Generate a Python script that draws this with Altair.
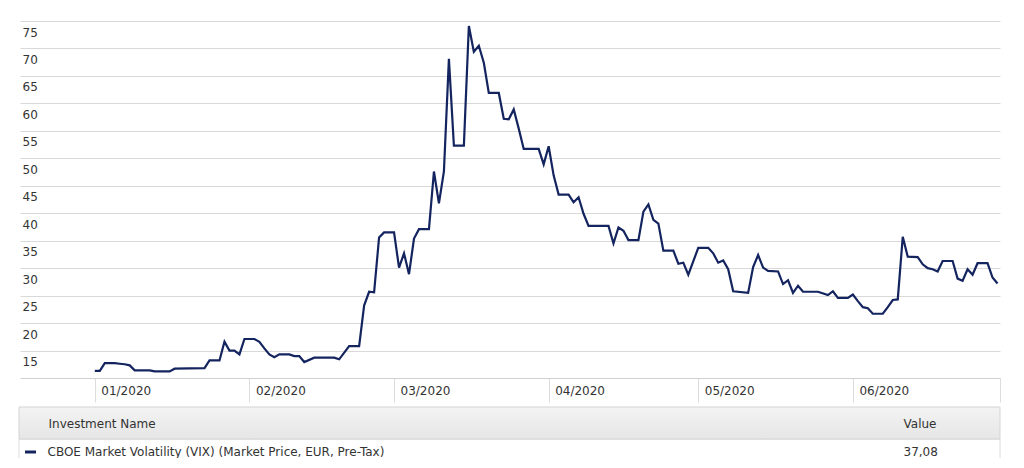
import altair as alt
import pandas as pd

# ---------------- data ----------------
dates = [
    "2020-01-01", "2020-01-02", "2020-01-03", "2020-01-05", "2020-01-06", "2020-01-07",
    "2020-01-08", "2020-01-09", "2020-01-12", "2020-01-13", "2020-01-16", "2020-01-17",
    "2020-01-23", "2020-01-24", "2020-01-26", "2020-01-27", "2020-01-28", "2020-01-29",
    "2020-01-30", "2020-01-31", "2020-02-02", "2020-02-03", "2020-02-04", "2020-02-05",
    "2020-02-06", "2020-02-07", "2020-02-09", "2020-02-10", "2020-02-11", "2020-02-12",
    "2020-02-14", "2020-02-18", "2020-02-19", "2020-02-21", "2020-02-23", "2020-02-24",
    "2020-02-25", "2020-02-26", "2020-02-27", "2020-02-28", "2020-03-01", "2020-03-02",
    "2020-03-03", "2020-03-04", "2020-03-05", "2020-03-06", "2020-03-08", "2020-03-09",
    "2020-03-10", "2020-03-11", "2020-03-12", "2020-03-13", "2020-03-15", "2020-03-16",
    "2020-03-17", "2020-03-18", "2020-03-19", "2020-03-20", "2020-03-22", "2020-03-23",
    "2020-03-24", "2020-03-25", "2020-03-26", "2020-03-27", "2020-03-30", "2020-03-31",
    "2020-04-01", "2020-04-02", "2020-04-03", "2020-04-05", "2020-04-06", "2020-04-07",
    "2020-04-08", "2020-04-09", "2020-04-13", "2020-04-14", "2020-04-15", "2020-04-16",
    "2020-04-17", "2020-04-19", "2020-04-20", "2020-04-21", "2020-04-22", "2020-04-23",
    "2020-04-24", "2020-04-26", "2020-04-27", "2020-04-28", "2020-04-29", "2020-05-01",
    "2020-05-03", "2020-05-04", "2020-05-05", "2020-05-06", "2020-05-07", "2020-05-08",
    "2020-05-11", "2020-05-12", "2020-05-13", "2020-05-14", "2020-05-15", "2020-05-17",
    "2020-05-18", "2020-05-19", "2020-05-20", "2020-05-21", "2020-05-22", "2020-05-25",
    "2020-05-27", "2020-05-28", "2020-05-29", "2020-05-31", "2020-06-01", "2020-06-02",
    "2020-06-03", "2020-06-04", "2020-06-05", "2020-06-07", "2020-06-08", "2020-06-09",
    "2020-06-10", "2020-06-11", "2020-06-12", "2020-06-14", "2020-06-15", "2020-06-16",
    "2020-06-17", "2020-06-18", "2020-06-19", "2020-06-21", "2020-06-22", "2020-06-23",
    "2020-06-24", "2020-06-25", "2020-06-26", "2020-06-28", "2020-06-29", "2020-06-30",
]
values = [
    11.3, 11.3, 12.7, 12.7, 12.6, 12.5,
    12.3, 11.4, 11.4, 11.2, 11.2, 11.7,
    11.8, 13.2, 13.2, 16.6, 15.0, 15.0,
    14.3, 17.1, 17.1, 16.6, 15.4, 14.3,
    13.8, 14.3, 14.3, 14.0, 14.0, 12.9,
    13.7, 13.7, 13.4, 15.8, 15.8, 23.2,
    25.7, 25.6, 35.6, 36.5, 36.5, 30.1,
    32.7, 28.9, 35.4, 37.1, 37.1, 47.6,
    41.8, 47.6, 68.1, 52.3, 52.3, 74.1,
    69.4, 70.5, 67.4, 61.9, 61.9, 57.2,
    57.1, 58.9, 55.4, 51.7, 51.7, 48.9,
    52.2, 46.9, 43.4, 43.4, 42.0, 42.9,
    39.9, 37.7, 37.7, 34.5, 37.4, 36.8,
    35.1, 35.1, 40.3, 41.6, 38.8, 38.1,
    33.2, 33.2, 30.8, 31.0, 28.8, 33.7,
    33.7, 32.7, 31.0, 31.4, 29.8, 25.8,
    25.5, 30.2, 32.4, 30.1, 29.5, 29.4,
    27.1, 27.8, 25.5, 26.8, 25.7, 25.7,
    25.1, 25.8, 24.6, 24.6, 25.2, 24.0,
    22.9, 22.7, 21.7, 21.7, 22.9, 24.2,
    24.3, 35.7, 32.1, 32.0, 30.7, 30.0,
    29.8, 29.4, 31.3, 31.3, 28.1, 27.7,
    29.8, 28.8, 30.9, 30.9, 28.3, 27.2,
]
y_ticks = [15, 20, 25, 30, 35, 40, 45, 50, 55, 60, 65, 70, 75]
month_ticks = [1, 2, 3, 4, 5, 6]

header_name = "Investment Name"
header_value = "Value"
series_name = "CBOE Market Volatility (VIX) (Market Price, EUR, Pre-Tax)"
latest_value = "37,08"

# ---------------- styling ----------------
FONT = "DejaVu Sans"
TEXT = "#333333"
LINE = "#14245f"
GRID = "#d9d9d9"
W, H = 980, 357

df = pd.DataFrame({"date": dates, "value": values})

x_scale = alt.Scale(
    type="utc",
    domain=[
        alt.DateTime(year=2019, month=12, date=17, utc=True),
        alt.DateTime(year=2020, month=6, date=30, hours=12, utc=True),
    ],
)
tick_values = [alt.DateTime(year=2020, month=m, date=1, utc=True) for m in month_ticks] + [
    alt.DateTime(year=2020, month=6, date=30, hours=12, utc=True)
]

line = (
    alt.Chart(df)
    .mark_line(color=LINE, strokeWidth=2.2, clip=False)
    .encode(
        x=alt.X(
            "date:T",
            scale=x_scale,
            axis=alt.Axis(
                values=tick_values,
                labelExpr="utcFormat(datum.value, '%d') == '01' ? utcFormat(datum.value, '%m/%Y') : ''",
                grid=False,
                domain=True,
                domainColor="#d0d0d0",
                domainWidth=1,
                ticks=True,
                tickSize=24,
                tickColor="#dcdcdc",
                tickWidth=1,
                labelAlign="left",
                labelBaseline="middle",
                labelPadding=-11.3,
                labelOffset=6,
                labelFont=FONT,
                labelFontSize=12,
                labelColor=TEXT,
                labelFlush=False,
                labelOverlap=False,
                labelBound=False,
                title=None,
            ),
        ),
        y=alt.Y(
            "value:Q",
            scale=alt.Scale(domain=[10, 75], nice=False, zero=False),
            axis=alt.Axis(
                values=y_ticks,
                grid=True,
                gridColor=GRID,
                gridWidth=1,
                domain=False,
                ticks=False,
                labelAlign="left",
                labelBaseline="middle",
                labelPadding=-2,
                labelOffset=11,
                labelFont=FONT,
                labelFontSize=12,
                labelColor=TEXT,
                labelFlush=False,
                labelOverlap=False,
                title=None,
            ),
        ),
    )
)

one = pd.DataFrame({"k": [0]})

header_bg = (
    alt.Chart(one)
    .mark_rect(
        fill={
            "gradient": "linear",
            "x1": 0, "y1": 0, "x2": 0, "y2": 1,
            "stops": [
                {"offset": 0, "color": "#f3f3f3"},
                {"offset": 1, "color": "#e6e6e6"},
            ],
        },
        stroke="#d4d4d4",
        strokeWidth=1,
    )
    .encode(x=alt.value(-1), x2=alt.value(980), y=alt.value(386), y2=alt.value(418))
)

sides = pd.DataFrame({"xpos": [-1, 980]})
table_sides = (
    alt.Chart(one)
    .mark_rule(color="#dcdcdc", strokeWidth=1)
    .encode(x=alt.value(-1), y=alt.value(418), y2=alt.value(440))
)
table_sides_r = (
    alt.Chart(one)
    .mark_rule(color="#dcdcdc", strokeWidth=1)
    .encode(x=alt.value(980), y=alt.value(418), y2=alt.value(440))
)
header_line = (
    alt.Chart(one)
    .mark_rule(color="#e0e0e0", strokeWidth=1)
    .encode(x=alt.value(-1), x2=alt.value(980), y=alt.value(418.5))
)

hdr_name = (
    alt.Chart(pd.DataFrame({"t": [header_name]}))
    .mark_text(font=FONT, fontSize=12, color=TEXT, align="left", baseline="middle")
    .encode(text="t:N", x=alt.value(28.5), y=alt.value(403))
)
hdr_value = (
    alt.Chart(pd.DataFrame({"t": [header_value]}))
    .mark_text(font=FONT, fontSize=12, color=TEXT, align="left", baseline="middle")
    .encode(text="t:N", x=alt.value(883.5), y=alt.value(403))
)
row_name = (
    alt.Chart(pd.DataFrame({"t": [series_name]}))
    .mark_text(font=FONT, fontSize=12, color=TEXT, align="left", baseline="middle")
    .encode(text="t:N", x=alt.value(27.5), y=alt.value(431))
)
row_value = (
    alt.Chart(pd.DataFrame({"t": [latest_value]}))
    .mark_text(font=FONT, fontSize=12, color=TEXT, align="left", baseline="middle")
    .encode(text="t:N", x=alt.value(883.5), y=alt.value(431))
)
row_marker = (
    alt.Chart(one)
    .mark_rule(color=LINE, strokeWidth=3)
    .encode(x=alt.value(5), x2=alt.value(16), y=alt.value(431))
)

chart = (
    alt.layer(
        line, header_bg, header_line, table_sides, table_sides_r,
        hdr_name, hdr_value, row_name, row_value, row_marker,
    )
    .properties(
        width=W,
        height=H,
        autosize=alt.AutoSizeParams(type="none"),
        padding={"left": 12, "top": 13, "right": 4, "bottom": 80},
        background="white",
    )
    .configure_view(stroke=None)
)

chart.save("out.html", embed_options={"renderer": "svg", "actions": False})
